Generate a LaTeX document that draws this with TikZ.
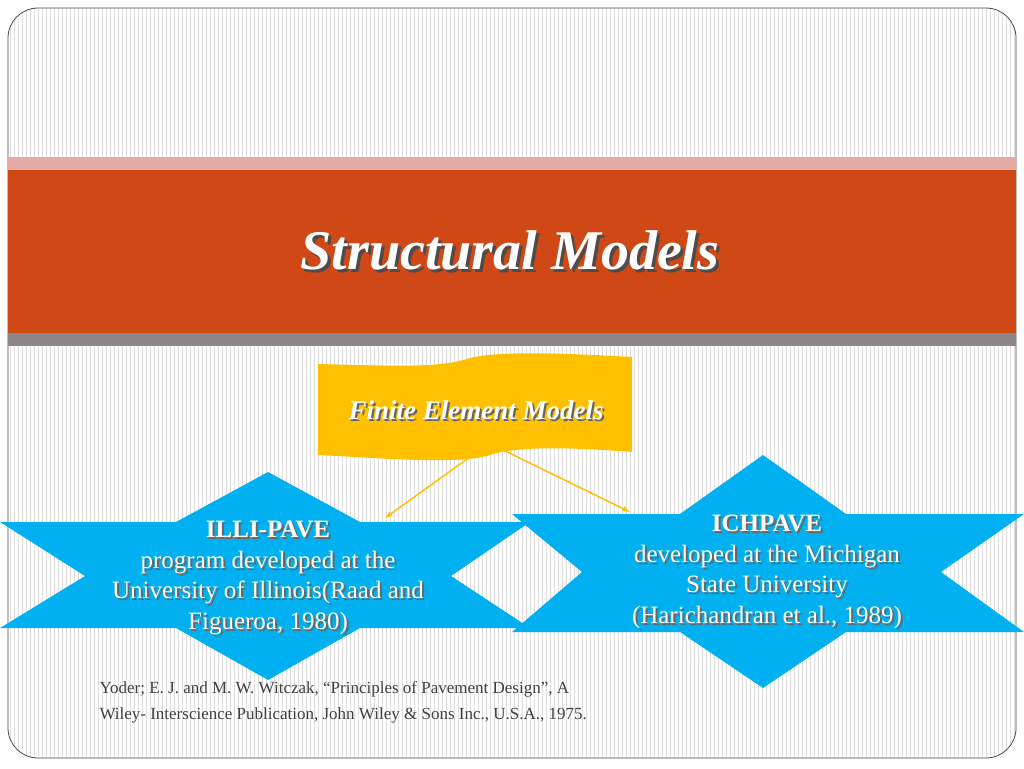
\documentclass[tikz,border=0pt]{standalone}
\usepackage{fontspec}
\setmainfont{Liberation Serif}
\begin{document}
\begin{tikzpicture}[x=1pt,y=-1pt,
  startxt/.style={text=white,font=\fontsize{25}{30.5}\selectfont,align=center},
  shad/.style={text=black!60,font=\fontsize{25}{30.5}\selectfont,align=center},
  conn/.style={draw=banner,line width=1.5pt,-{latex}}]
\definecolor{bgline}{RGB}{222,222,222}
\definecolor{pinkb}{RGB}{230,170,165}
\definecolor{orangeb}{RGB}{208,72,22}
\definecolor{grayb}{RGB}{140,134,134}
\definecolor{starblue}{RGB}{0,176,240}
\definecolor{banner}{RGB}{255,192,0}
\useasboundingbox (0,0) rectangle (1024,768);
\fill[white] (0,0) rectangle (1024,768);
\begin{scope}
\clip[rounded corners=30pt] (8,8) rectangle (1016,758);
\foreach \i in {0,...,252} {\draw[bgline,line width=0.5pt] (10+4*\i,8) -- (10+4*\i,758);}
\end{scope}
\draw[black!70,line width=0.8pt,rounded corners=30pt] (8,8) rectangle (1016,758);
\fill[pinkb] (8,157) rectangle (1016,170);
\fill[orangeb] (8,170) rectangle (1016,333);
\fill[grayb] (8,333) rectangle (1016,346);
\node[text=black!70,font=\fontsize{56}{60}\selectfont\bfseries\itshape] at (513,253) {Structural Models};
\node (title) [text=white,font=\fontsize{56}{60}\selectfont\bfseries\itshape] at (510,250) {Structural Models};
% banner
\fill[banner] (318,364) .. controls (400,366) and (440,368) .. (470,358)
  .. controls (500,350) and (580,354) .. (632,357) -- (632,452)
  .. controls (580,448) and (520,445) .. (490,455)
  .. controls (460,465) and (380,458) .. (318,455) -- cycle;
\node[text=black!60,font=\fontsize{27}{30}\selectfont\bfseries\itshape] at (478,412) {Finite Element Models};
\node (fem) [text=white,font=\fontsize{27}{30}\selectfont\bfseries\itshape] at (476,410) {Finite Element Models};
% left star
\fill[starblue] (268,472) -- (176,522) -- (0,522) -- (85,576) -- (0,628) -- (176,628) -- (268,680) -- (360,628) -- (530,628) -- (451,576) -- (530,522) -- (360,522) -- cycle;
% right star
\fill[starblue] (763,455) -- (680,514) -- (512,514) -- (582,572) -- (512,632) -- (680,632) -- (763,688) -- (846,632) -- (1024,632) -- (941,572) -- (1024,514) -- (846,514) -- cycle;
\node[shad] at (270,580) {\textbf{ILLI-PAVE}\\program developed at the\\University of Illinois(Raad and\\Figueroa, 1980)};
\node (illi) [startxt] at (268,578) {\textbf{ILLI-PAVE}\\program developed at the\\University of Illinois(Raad and\\Figueroa, 1980)};
\node[shad] at (769,574) {\textbf{ICHPAVE}\\developed at the Michigan\\State University\\(Harichandran et al., 1989)};
\node (ich) [startxt] at (767,572) {\textbf{ICHPAVE}\\developed at the Michigan\\State University\\(Harichandran et al., 1989)};
\coordinate (a1) at (470,457);
\coordinate (a2) at (497,447);
\coordinate (t1) at (385,518);
\coordinate (t2) at (630,512);
\draw[conn] (a1) -- (t1);
\draw[conn] (a2) -- (t2);
\node (ref) [anchor=north west,text=black!75,font=\fontsize{17}{26}\selectfont,align=left] at (96,678) {Yoder; E. J. and M. W. Witczak, “Principles of Pavement Design”, A\\Wiley- Interscience Publication, John Wiley \& Sons Inc., U.S.A., 1975.};
\end{tikzpicture}
\end{document}
